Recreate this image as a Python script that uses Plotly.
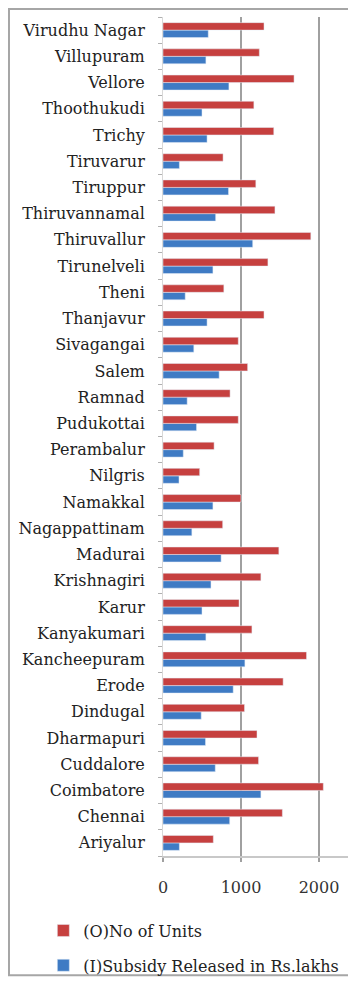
import plotly.graph_objects as go

# districts, bottom to top as in the source sheet
districts = ["Ariyalur", "Chennai", "Coimbatore", "Cuddalore", "Dharmapuri", "Dindugal",
             "Erode", "Kancheepuram", "Kanyakumari", "Karur", "Krishnagiri", "Madurai",
             "Nagappattinam", "Namakkal", "Nilgris", "Perambalur", "Pudukottai", "Ramnad",
             "Salem", "Sivagangai", "Thanjavur", "Theni", "Tirunelveli", "Thiruvallur",
             "Thiruvannamal", "Tiruppur", "Tiruvarur", "Trichy", "Thoothukudi", "Vellore",
             "Villupuram", "Virudhu Nagar"]

units = [645, 1530, 2055, 1225, 1205, 1045, 1540, 1840, 1140, 975, 1255, 1485,
         765, 1000, 470, 655, 965, 860, 1085, 965, 1295, 780, 1345, 1895,
         1435, 1190, 770, 1420, 1165, 1680, 1235, 1295]

subsidy = [210, 855, 1255, 670, 545, 490, 900, 1050, 550, 500, 615, 745,
           370, 640, 205, 260, 430, 310, 720, 395, 565, 285, 640, 1150,
           675, 840, 210, 565, 500, 845, 550, 580]

x_ticks = [0, 1000, 2000]

font = "DejaVu Serif"

fig = go.Figure()
fig.add_trace(go.Bar(y=districts, x=subsidy, orientation="h",
                     name="(I)Subsidy Released in Rs.lakhs",
                     marker_color="#3f7bc4", legendgroup="b", legendrank=2))
fig.add_trace(go.Bar(y=districts, x=units, orientation="h",
                     name="(O)No of Units",
                     marker_color="#c6403f", legendgroup="a", legendrank=1))

# outer chart frame (Excel style): left, top and bottom; right side is cut off
fig.add_shape(type="path", xref="paper", yref="paper",
              path="M 1.05,-0.1420 L -0.798,-0.1420 L -0.798,1.0095 L 1.05,1.0095",
              line=dict(color="#a6a6a6", width=2), layer="above")

fig.update_layout(
    width=348, height=975,
    margin=dict(l=155, r=0, t=9, b=121),
    paper_bgcolor="white", plot_bgcolor="white",
    barmode="group", bargap=0.43, bargroupgap=0,
    font=dict(family=font, size=16, color="#222222"),
    showlegend=True,
    legend=dict(x=-0.62, xanchor="left", y=-0.0686, yanchor="top",
                traceorder="grouped", tracegroupgap=11,
                font=dict(family=font, size=16, color="#222222"),
                bgcolor="rgba(0,0,0,0)"),
    xaxis=dict(range=[0, 2474], tickvals=x_ticks, showgrid=True,
               gridcolor="#a0a0a0", gridwidth=2, zeroline=False,
               showline=True, linecolor="#c8c8c8", linewidth=2,
               ticks="outside", ticklen=4, tickcolor="#a0a0a0", tickwidth=2,
               ticklabelstandoff=12,
               tickfont=dict(family=font, size=16, color="#333333")),
    yaxis=dict(type="category", showgrid=False, zeroline=False,
               showline=True, linecolor="#d8d8d8", linewidth=1,
               ticks="outside", tickson="boundaries", ticklen=4,
               tickcolor="#b0b0b0", ticklabelstandoff=14,
               tickfont=dict(family=font, size=16, color="#222222")),
)

fig.write_html("out.html")
